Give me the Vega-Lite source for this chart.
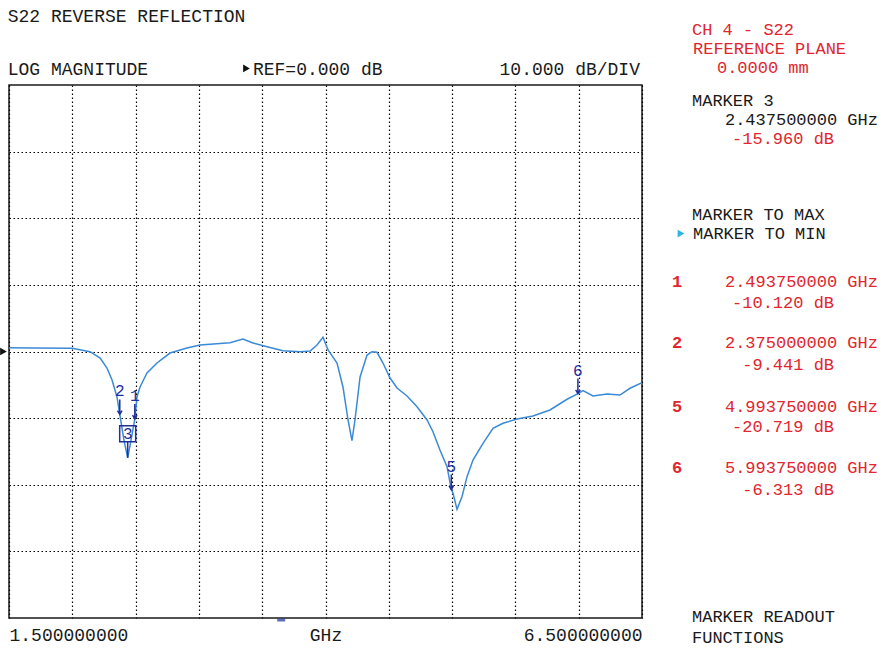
{
  "$schema": "https://vega.github.io/schema/vega-lite/v6.json",
  "autosize": "none",
  "width": 633,
  "height": 533,
  "padding": {"left": 9, "top": 85, "right": 241, "bottom": 30},
  "background": "white",
  "config": {
    "view": {"stroke": "#1a1a1a", "strokeWidth": 1.5},
    "font": "Liberation Mono"
  },
  "datasets": {
    "trace": [
      {"f": 1.5, "db": 0.57}, {"f": 1.69, "db": 0.53}, {"f": 2.0, "db": 0.48}, {"f": 2.14, "db": -0.03},
      {"f": 2.22, "db": -0.98}, {"f": 2.274, "db": -2.48}, {"f": 2.314, "db": -4.28}, {"f": 2.353, "db": -6.83},
      {"f": 2.375, "db": -9.44}, {"f": 2.408, "db": -13.3}, {"f": 2.4375, "db": -15.96}, {"f": 2.464, "db": -13.3},
      {"f": 2.494, "db": -10.12}, {"f": 2.511, "db": -6.83}, {"f": 2.535, "db": -5.33}, {"f": 2.59, "db": -3.23},
      {"f": 2.669, "db": -1.73}, {"f": 2.772, "db": -0.23}, {"f": 2.906, "db": 0.53}, {"f": 3.009, "db": 0.98},
      {"f": 3.246, "db": 1.32}, {"f": 3.348, "db": 1.88}, {"f": 3.427, "db": 1.28}, {"f": 3.538, "db": 0.72},
      {"f": 3.664, "db": 0.12}, {"f": 3.799, "db": -0.03}, {"f": 3.878, "db": 0.08}, {"f": 3.933, "db": 0.98},
      {"f": 3.98, "db": 2.13}, {"f": 4.02, "db": 0.23}, {"f": 4.091, "db": -1.73}, {"f": 4.138, "db": -5.33},
      {"f": 4.178, "db": -10.28}, {"f": 4.209, "db": -13.39}, {"f": 4.233, "db": -10.28}, {"f": 4.273, "db": -3.83},
      {"f": 4.328, "db": -0.53}, {"f": 4.367, "db": -0.03}, {"f": 4.407, "db": -0.12}, {"f": 4.454, "db": -1.73},
      {"f": 4.51, "db": -3.98}, {"f": 4.565, "db": -5.48}, {"f": 4.644, "db": -6.68}, {"f": 4.723, "db": -8.29},
      {"f": 4.802, "db": -10.28}, {"f": 4.849, "db": -12.04}, {"f": 4.904, "db": -14.78}, {"f": 4.96, "db": -17.29},
      {"f": 4.994, "db": -20.72}, {"f": 5.007, "db": -21.24}, {"f": 5.039, "db": -23.69}, {"f": 5.078, "db": -21.79},
      {"f": 5.118, "db": -18.79}, {"f": 5.165, "db": -16.29}, {"f": 5.244, "db": -13.78}, {"f": 5.323, "db": -11.53},
      {"f": 5.402, "db": -10.78}, {"f": 5.513, "db": -10.13}, {"f": 5.639, "db": -9.68}, {"f": 5.773, "db": -8.78},
      {"f": 5.908, "db": -7.17}, {"f": 5.994, "db": -6.31}, {"f": 6.034, "db": -5.88}, {"f": 6.113, "db": -6.68},
      {"f": 6.224, "db": -6.38}, {"f": 6.326, "db": -6.53}, {"f": 6.405, "db": -5.52}, {"f": 6.5, "db": -4.68}
    ],
    "markers": [
      {"id": "1", "f": 2.49375, "db": -10.12},
      {"id": "2", "f": 2.375, "db": -9.441},
      {"id": "5", "f": 4.99375, "db": -20.719},
      {"id": "6", "f": 5.99375, "db": -6.313}
    ],
    "active": [
      {"id": "3", "f": 2.4375, "db": -15.96}
    ],
    "notes": [
      {"text": "S22 REVERSE REFLECTION", "f": 1.49, "db": 49.46, "role": "top"},
      {"text": "LOG MAGNITUDE", "f": 1.49, "db": 41.5, "role": "top"},
      {"text": "REF=0.000 dB", "f": 3.427, "db": 41.5, "role": "top"},
      {"text": "10.000 dB/DIV", "f": 6.484, "db": 41.5, "role": "topr"},
      {"text": "CH 4 - S22", "f": 6.895, "db": 47.5, "role": "red"},
      {"text": "REFERENCE PLANE", "f": 6.903, "db": 44.65, "role": "red"},
      {"text": "0.0000 mm", "f": 7.092, "db": 41.8, "role": "red"},
      {"text": "MARKER 3", "f": 6.895, "db": 36.85, "role": "head"},
      {"text": "MARKER TO MAX", "f": 6.895, "db": 19.74, "role": "head"},
      {"text": "MARKER TO MIN", "f": 6.903, "db": 16.89, "role": "head"},
      {"text": "MARKER READOUT", "f": 6.895, "db": -40.6, "role": "head"},
      {"text": "FUNCTIONS", "f": 6.895, "db": -43.7, "role": "head"},
      {"text": "2.437500000 GHz", "f": 8.364, "db": 34.0, "role": "valk"},
      {"text": "-15.960 dB", "f": 8.017, "db": 31.14, "role": "val"},
      {"text": "2.493750000 GHz", "f": 8.364, "db": 9.68, "role": "val"},
      {"text": "-10.120 dB", "f": 8.017, "db": 6.53, "role": "val"},
      {"text": "2.375000000 GHz", "f": 8.364, "db": 0.53, "role": "val"},
      {"text": "-9.441 dB", "f": 8.017, "db": -2.78, "role": "val"},
      {"text": "4.993750000 GHz", "f": 8.364, "db": -9.08, "role": "val"},
      {"text": "-20.719 dB", "f": 8.017, "db": -12.08, "role": "val"},
      {"text": "5.993750000 GHz", "f": 8.364, "db": -18.24, "role": "val"},
      {"text": "-6.313 dB", "f": 8.017, "db": -21.54, "role": "val"},
      {"text": "1", "f": 6.737, "db": 9.68, "role": "num"},
      {"text": "2", "f": 6.737, "db": 0.53, "role": "num"},
      {"text": "5", "f": 6.737, "db": -9.08, "role": "num"},
      {"text": "6", "f": 6.737, "db": -18.24, "role": "num"}
    ],
    "refArrows": [
      {"f": 1.4566, "db": 0},
      {"f": 3.376, "db": 42.48}
    ],
    "menuArrow": [
      {"f": 6.808, "db": 17.7}
    ],
    "stim": [
      {"f": 3.65, "db": -40}
    ]
  },
  "encoding": {
    "x": {
      "field": "f", "type": "quantitative",
      "scale": {"domain": [1.5, 6.5], "nice": false, "zero": false},
      "axis": {
        "title": null,
        "values": [1.5, 2, 2.5, 3, 3.5, 4, 4.5, 5, 5.5, 6, 6.5],
        "labelExpr": "datum.value == 1.5 ? '1.500000000' : datum.value == 4 ? 'GHz' : datum.value == 6.5 ? '6.500000000' : ''",
        "labelFlush": true,
        "labelOverlap": false,
        "labelFont": "Liberation Mono",
        "labelFontSize": 18,
        "labelColor": "#1a1a1a",
        "labelBaseline": "alphabetic",
        "labelPadding": 22,
        "ticks": false,
        "tickSize": 0,
        "domain": false,
        "grid": true,
        "gridColor": "#000",
        "gridDash": [1.5, 2.5],
        "gridWidth": 1.2
      }
    },
    "y": {
      "field": "db", "type": "quantitative",
      "scale": {"domain": [-40, 40], "nice": false, "zero": false},
      "axis": {
        "title": null,
        "values": [-30, -20, -10, 0, 10, 20, 30],
        "labels": false,
        "ticks": false,
        "domain": false,
        "grid": true,
        "gridColor": "#000",
        "gridDash": [1.5, 2.5],
        "gridWidth": 1.2
      }
    }
  },
  "layer": [
    {
      "data": {"name": "trace"},
      "mark": {"type": "line", "color": "#3b8ad6", "strokeWidth": 1.5, "clip": true}
    },
    {
      "data": {"name": "markers"},
      "mark": {"type": "point", "shape": "M0,0V-1M-0.15,-0.25L0,0L0.15,-0.25", "size": 900, "filled": false, "stroke": "#1f2f9e", "strokeWidth": 1.5, "opacity": 1}
    },
    {
      "data": {"name": "markers"},
      "mark": {"type": "text", "color": "#1f2f9e", "fontSize": 16, "font": "Liberation Mono", "baseline": "alphabetic", "align": "center", "dy": -18},
      "encoding": {"text": {"field": "id"}}
    },
    {
      "data": {"name": "active"},
      "mark": {"type": "point", "shape": "M-0.5,-2H0.5V-1H-0.5ZM0,-1V0", "size": 1024, "filled": false, "stroke": "#1f2f9e", "strokeWidth": 1.5, "opacity": 1}
    },
    {
      "data": {"name": "active"},
      "mark": {"type": "text", "color": "#1f2f9e", "fontSize": 16, "font": "Liberation Mono", "baseline": "middle", "align": "center", "dy": -24},
      "encoding": {"text": {"field": "id"}}
    },
    {
      "data": {"name": "notes"},
      "transform": [{"filter": "datum.role == 'top'"}],
      "mark": {"type": "text", "align": "left", "baseline": "alphabetic", "fontSize": 18, "font": "Liberation Mono", "color": "#1a1a1a"},
      "encoding": {"text": {"field": "text"}}
    },
    {
      "data": {"name": "notes"},
      "transform": [{"filter": "datum.role == 'topr'"}],
      "mark": {"type": "text", "align": "right", "baseline": "alphabetic", "fontSize": 18, "font": "Liberation Mono", "color": "#1a1a1a"},
      "encoding": {"text": {"field": "text"}}
    },
    {
      "data": {"name": "notes"},
      "transform": [{"filter": "datum.role == 'head'"}],
      "mark": {"type": "text", "align": "left", "baseline": "alphabetic", "fontSize": 17, "font": "Liberation Mono", "color": "#1a1a1a"},
      "encoding": {"text": {"field": "text"}}
    },
    {
      "data": {"name": "notes"},
      "transform": [{"filter": "datum.role == 'red'"}],
      "mark": {"type": "text", "align": "left", "baseline": "alphabetic", "fontSize": 17, "font": "Liberation Mono", "color": "#e0262e"},
      "encoding": {"text": {"field": "text"}}
    },
    {
      "data": {"name": "notes"},
      "transform": [{"filter": "datum.role == 'valk'"}],
      "mark": {"type": "text", "align": "right", "baseline": "alphabetic", "fontSize": 17, "font": "Liberation Mono", "color": "#1a1a1a"},
      "encoding": {"text": {"field": "text"}}
    },
    {
      "data": {"name": "notes"},
      "transform": [{"filter": "datum.role == 'val'"}],
      "mark": {"type": "text", "align": "right", "baseline": "alphabetic", "fontSize": 17, "font": "Liberation Mono", "color": "#e0262e"},
      "encoding": {"text": {"field": "text"}}
    },
    {
      "data": {"name": "notes"},
      "transform": [{"filter": "datum.role == 'num'"}],
      "mark": {"type": "text", "align": "left", "baseline": "alphabetic", "fontSize": 17, "font": "Liberation Mono", "fontWeight": "bold", "color": "#e0262e"},
      "encoding": {"text": {"field": "text"}}
    },
    {
      "data": {"name": "refArrows"},
      "mark": {"type": "point", "shape": "triangle-right", "filled": true, "size": 60, "opacity": 1, "color": "#111111"}
    },
    {
      "data": {"name": "menuArrow"},
      "mark": {"type": "point", "shape": "triangle-right", "filled": true, "size": 60, "opacity": 1, "color": "#2bb5e6"}
    },
    {
      "data": {"name": "stim"},
      "mark": {"type": "tick", "orient": "horizontal", "color": "#1f2f9e", "size": 8, "thickness": 3, "yOffset": 2}
    }
  ]
}
